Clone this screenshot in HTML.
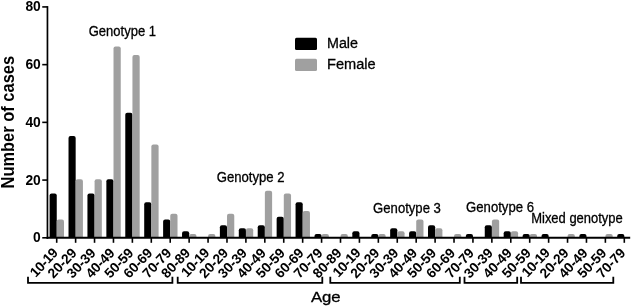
<!DOCTYPE html><html><head><meta charset="utf-8"><style>html,body{margin:0;padding:0;background:#fff}</style></head><body><svg width="633" height="307" viewBox="0 0 633 307" style="display:block;font-family:'Liberation Sans',sans-serif">
<rect width="633" height="307" fill="#fff"/>
<path d="M49.60 237.8 V195.61 Q49.60 193.61 51.60 193.61 H54.75 Q56.75 193.61 56.75 195.61 V237.8 Z" fill="#000"/>
<path d="M56.75 237.8 V221.58 Q56.75 219.58 58.75 219.58 H62.00 Q64.00 219.58 64.00 221.58 V237.8 Z" fill="#a0a0a0"/>
<path d="M68.52 237.8 V137.89 Q68.52 135.89 70.52 135.89 H73.67 Q75.67 135.89 75.67 137.89 V237.8 Z" fill="#000"/>
<path d="M75.67 237.8 V181.18 Q75.67 179.18 77.67 179.18 H80.92 Q82.92 179.18 82.92 181.18 V237.8 Z" fill="#a0a0a0"/>
<path d="M87.44 237.8 V195.61 Q87.44 193.61 89.44 193.61 H92.59 Q94.59 193.61 94.59 195.61 V237.8 Z" fill="#000"/>
<path d="M94.59 237.8 V181.18 Q94.59 179.18 96.59 179.18 H99.84 Q101.84 179.18 101.84 181.18 V237.8 Z" fill="#a0a0a0"/>
<path d="M106.36 237.8 V181.18 Q106.36 179.18 108.36 179.18 H111.51 Q113.51 179.18 113.51 181.18 V237.8 Z" fill="#000"/>
<path d="M113.51 237.8 V48.42 Q113.51 46.42 115.51 46.42 H118.76 Q120.76 46.42 120.76 48.42 V237.8 Z" fill="#a0a0a0"/>
<path d="M125.28 237.8 V114.80 Q125.28 112.80 127.28 112.80 H130.43 Q132.43 112.80 132.43 114.80 V237.8 Z" fill="#000"/>
<path d="M132.43 237.8 V57.08 Q132.43 55.08 134.43 55.08 H137.68 Q139.68 55.08 139.68 57.08 V237.8 Z" fill="#a0a0a0"/>
<path d="M144.20 237.8 V204.27 Q144.20 202.27 146.20 202.27 H149.35 Q151.35 202.27 151.35 204.27 V237.8 Z" fill="#000"/>
<path d="M151.35 237.8 V146.55 Q151.35 144.55 153.35 144.55 H156.60 Q158.60 144.55 158.60 146.55 V237.8 Z" fill="#a0a0a0"/>
<path d="M163.12 237.8 V221.58 Q163.12 219.58 165.12 219.58 H168.27 Q170.27 219.58 170.27 221.58 V237.8 Z" fill="#000"/>
<path d="M170.27 237.8 V215.81 Q170.27 213.81 172.27 213.81 H175.52 Q177.52 213.81 177.52 215.81 V237.8 Z" fill="#a0a0a0"/>
<path d="M182.04 237.8 V233.13 Q182.04 231.13 184.04 231.13 H187.19 Q189.19 231.13 189.19 233.13 V237.8 Z" fill="#000"/>
<path d="M189.19 237.8 V236.01 Q189.19 234.01 191.19 234.01 H194.44 Q196.44 234.01 196.44 236.01 V237.8 Z" fill="#a0a0a0"/>
<path d="M208.11 237.8 V236.01 Q208.11 234.01 210.11 234.01 H213.36 Q215.36 234.01 215.36 236.01 V237.8 Z" fill="#a0a0a0"/>
<path d="M219.88 237.8 V227.36 Q219.88 225.36 221.88 225.36 H225.03 Q227.03 225.36 227.03 227.36 V237.8 Z" fill="#000"/>
<path d="M227.03 237.8 V215.81 Q227.03 213.81 229.03 213.81 H232.28 Q234.28 213.81 234.28 215.81 V237.8 Z" fill="#a0a0a0"/>
<path d="M238.80 237.8 V230.24 Q238.80 228.24 240.80 228.24 H243.95 Q245.95 228.24 245.95 230.24 V237.8 Z" fill="#000"/>
<path d="M245.95 237.8 V230.24 Q245.95 228.24 247.95 228.24 H251.20 Q253.20 228.24 253.20 230.24 V237.8 Z" fill="#a0a0a0"/>
<path d="M257.72 237.8 V227.36 Q257.72 225.36 259.72 225.36 H262.87 Q264.87 225.36 264.87 227.36 V237.8 Z" fill="#000"/>
<path d="M264.87 237.8 V192.72 Q264.87 190.72 266.87 190.72 H270.12 Q272.12 190.72 272.12 192.72 V237.8 Z" fill="#a0a0a0"/>
<path d="M276.64 237.8 V218.70 Q276.64 216.70 278.64 216.70 H281.79 Q283.79 216.70 283.79 218.70 V237.8 Z" fill="#000"/>
<path d="M283.79 237.8 V195.61 Q283.79 193.61 285.79 193.61 H289.04 Q291.04 193.61 291.04 195.61 V237.8 Z" fill="#a0a0a0"/>
<path d="M295.56 237.8 V204.27 Q295.56 202.27 297.56 202.27 H300.71 Q302.71 202.27 302.71 204.27 V237.8 Z" fill="#000"/>
<path d="M302.71 237.8 V212.93 Q302.71 210.93 304.71 210.93 H307.96 Q309.96 210.93 309.96 212.93 V237.8 Z" fill="#a0a0a0"/>
<path d="M314.48 237.8 V236.01 Q314.48 234.01 316.48 234.01 H319.63 Q321.63 234.01 321.63 236.01 V237.8 Z" fill="#000"/>
<path d="M321.63 237.8 V236.01 Q321.63 234.01 323.63 234.01 H326.88 Q328.88 234.01 328.88 236.01 V237.8 Z" fill="#a0a0a0"/>
<path d="M340.55 237.8 V236.01 Q340.55 234.01 342.55 234.01 H345.80 Q347.80 234.01 347.80 236.01 V237.8 Z" fill="#a0a0a0"/>
<path d="M352.32 237.8 V233.13 Q352.32 231.13 354.32 231.13 H357.47 Q359.47 231.13 359.47 233.13 V237.8 Z" fill="#000"/>
<path d="M371.24 237.8 V236.01 Q371.24 234.01 373.24 234.01 H376.39 Q378.39 234.01 378.39 236.01 V237.8 Z" fill="#000"/>
<path d="M378.39 237.8 V236.01 Q378.39 234.01 380.39 234.01 H383.64 Q385.64 234.01 385.64 236.01 V237.8 Z" fill="#a0a0a0"/>
<path d="M390.16 237.8 V230.24 Q390.16 228.24 392.16 228.24 H395.31 Q397.31 228.24 397.31 230.24 V237.8 Z" fill="#000"/>
<path d="M397.31 237.8 V233.13 Q397.31 231.13 399.31 231.13 H402.56 Q404.56 231.13 404.56 233.13 V237.8 Z" fill="#a0a0a0"/>
<path d="M409.08 237.8 V233.13 Q409.08 231.13 411.08 231.13 H414.23 Q416.23 231.13 416.23 233.13 V237.8 Z" fill="#000"/>
<path d="M416.23 237.8 V221.58 Q416.23 219.58 418.23 219.58 H421.48 Q423.48 219.58 423.48 221.58 V237.8 Z" fill="#a0a0a0"/>
<path d="M428.00 237.8 V227.36 Q428.00 225.36 430.00 225.36 H433.15 Q435.15 225.36 435.15 227.36 V237.8 Z" fill="#000"/>
<path d="M435.15 237.8 V230.24 Q435.15 228.24 437.15 228.24 H440.40 Q442.40 228.24 442.40 230.24 V237.8 Z" fill="#a0a0a0"/>
<path d="M454.07 237.8 V236.01 Q454.07 234.01 456.07 234.01 H459.32 Q461.32 234.01 461.32 236.01 V237.8 Z" fill="#a0a0a0"/>
<path d="M465.84 237.8 V236.01 Q465.84 234.01 467.84 234.01 H470.99 Q472.99 234.01 472.99 236.01 V237.8 Z" fill="#000"/>
<path d="M484.76 237.8 V227.36 Q484.76 225.36 486.76 225.36 H489.91 Q491.91 225.36 491.91 227.36 V237.8 Z" fill="#000"/>
<path d="M491.91 237.8 V221.58 Q491.91 219.58 493.91 219.58 H497.16 Q499.16 219.58 499.16 221.58 V237.8 Z" fill="#a0a0a0"/>
<path d="M503.68 237.8 V233.13 Q503.68 231.13 505.68 231.13 H508.83 Q510.83 231.13 510.83 233.13 V237.8 Z" fill="#000"/>
<path d="M510.83 237.8 V233.13 Q510.83 231.13 512.83 231.13 H516.08 Q518.08 231.13 518.08 233.13 V237.8 Z" fill="#a0a0a0"/>
<path d="M522.60 237.8 V236.01 Q522.60 234.01 524.60 234.01 H527.75 Q529.75 234.01 529.75 236.01 V237.8 Z" fill="#000"/>
<path d="M529.75 237.8 V236.01 Q529.75 234.01 531.75 234.01 H535.00 Q537.00 234.01 537.00 236.01 V237.8 Z" fill="#a0a0a0"/>
<path d="M541.52 237.8 V236.01 Q541.52 234.01 543.52 234.01 H546.67 Q548.67 234.01 548.67 236.01 V237.8 Z" fill="#000"/>
<path d="M567.59 237.8 V236.01 Q567.59 234.01 569.59 234.01 H572.84 Q574.84 234.01 574.84 236.01 V237.8 Z" fill="#a0a0a0"/>
<path d="M579.36 237.8 V236.01 Q579.36 234.01 581.36 234.01 H584.51 Q586.51 234.01 586.51 236.01 V237.8 Z" fill="#000"/>
<path d="M605.43 237.8 V236.01 Q605.43 234.01 607.43 234.01 H610.68 Q612.68 234.01 612.68 236.01 V237.8 Z" fill="#a0a0a0"/>
<path d="M617.20 237.8 V236.01 Q617.20 234.01 619.20 234.01 H622.35 Q624.35 234.01 624.35 236.01 V237.8 Z" fill="#000"/>
<g stroke="#000" fill="none">
<path d="M47.45 6.1 V238.8" stroke-width="1.7"/>
<path d="M46.6 237.8 H630.2" stroke-width="2"/>
<path d="M42.25 237.80 H47.45" stroke-width="1.6"/>
<path d="M42.25 180.08 H47.45" stroke-width="1.6"/>
<path d="M42.25 122.36 H47.45" stroke-width="1.6"/>
<path d="M42.25 64.64 H47.45" stroke-width="1.6"/>
<path d="M42.25 6.92 H47.45" stroke-width="1.6"/>
<path d="M56.70 237.8 V242.8" stroke-width="1.6"/>
<path d="M75.62 237.8 V242.8" stroke-width="1.6"/>
<path d="M94.54 237.8 V242.8" stroke-width="1.6"/>
<path d="M113.46 237.8 V242.8" stroke-width="1.6"/>
<path d="M132.38 237.8 V242.8" stroke-width="1.6"/>
<path d="M151.30 237.8 V242.8" stroke-width="1.6"/>
<path d="M170.22 237.8 V242.8" stroke-width="1.6"/>
<path d="M189.14 237.8 V242.8" stroke-width="1.6"/>
<path d="M208.06 237.8 V242.8" stroke-width="1.6"/>
<path d="M226.98 237.8 V242.8" stroke-width="1.6"/>
<path d="M245.90 237.8 V242.8" stroke-width="1.6"/>
<path d="M264.82 237.8 V242.8" stroke-width="1.6"/>
<path d="M283.74 237.8 V242.8" stroke-width="1.6"/>
<path d="M302.66 237.8 V242.8" stroke-width="1.6"/>
<path d="M321.58 237.8 V242.8" stroke-width="1.6"/>
<path d="M340.50 237.8 V242.8" stroke-width="1.6"/>
<path d="M359.42 237.8 V242.8" stroke-width="1.6"/>
<path d="M378.34 237.8 V242.8" stroke-width="1.6"/>
<path d="M397.26 237.8 V242.8" stroke-width="1.6"/>
<path d="M416.18 237.8 V242.8" stroke-width="1.6"/>
<path d="M435.10 237.8 V242.8" stroke-width="1.6"/>
<path d="M454.02 237.8 V242.8" stroke-width="1.6"/>
<path d="M472.94 237.8 V242.8" stroke-width="1.6"/>
<path d="M491.86 237.8 V242.8" stroke-width="1.6"/>
<path d="M510.78 237.8 V242.8" stroke-width="1.6"/>
<path d="M529.70 237.8 V242.8" stroke-width="1.6"/>
<path d="M548.62 237.8 V242.8" stroke-width="1.6"/>
<path d="M567.54 237.8 V242.8" stroke-width="1.6"/>
<path d="M586.46 237.8 V242.8" stroke-width="1.6"/>
<path d="M605.38 237.8 V242.8" stroke-width="1.6"/>
<path d="M624.30 237.8 V242.8" stroke-width="1.6"/>
</g>
<text x="40.75" y="242.30" font-size="13.8" font-weight="bold" text-anchor="end">0</text>
<text x="40.75" y="184.58" font-size="13.8" font-weight="bold" text-anchor="end">20</text>
<text x="40.75" y="126.86" font-size="13.8" font-weight="bold" text-anchor="end">40</text>
<text x="40.75" y="69.14" font-size="13.8" font-weight="bold" text-anchor="end">60</text>
<text x="40.75" y="11.42" font-size="13.8" font-weight="bold" text-anchor="end">80</text>
<text transform="translate(58.60 253.8) rotate(-46.5)" font-size="13.8" letter-spacing="-0.4" font-weight="bold" text-anchor="end">10-19</text>
<text transform="translate(77.52 253.8) rotate(-46.5)" font-size="13.8" letter-spacing="-0.1" font-weight="bold" text-anchor="end">20-29</text>
<text transform="translate(96.44 253.8) rotate(-46.5)" font-size="13.8" letter-spacing="-0.1" font-weight="bold" text-anchor="end">30-39</text>
<text transform="translate(115.36 253.8) rotate(-46.5)" font-size="13.8" letter-spacing="-0.1" font-weight="bold" text-anchor="end">40-49</text>
<text transform="translate(134.28 253.8) rotate(-46.5)" font-size="13.8" letter-spacing="-0.1" font-weight="bold" text-anchor="end">50-59</text>
<text transform="translate(153.20 253.8) rotate(-46.5)" font-size="13.8" letter-spacing="-0.1" font-weight="bold" text-anchor="end">60-69</text>
<text transform="translate(172.12 253.8) rotate(-46.5)" font-size="13.8" letter-spacing="-0.1" font-weight="bold" text-anchor="end">70-79</text>
<text transform="translate(191.04 253.8) rotate(-46.5)" font-size="13.8" letter-spacing="-0.1" font-weight="bold" text-anchor="end">80-89</text>
<text transform="translate(209.96 253.8) rotate(-46.5)" font-size="13.8" letter-spacing="-0.4" font-weight="bold" text-anchor="end">10-19</text>
<text transform="translate(228.88 253.8) rotate(-46.5)" font-size="13.8" letter-spacing="-0.1" font-weight="bold" text-anchor="end">20-29</text>
<text transform="translate(247.80 253.8) rotate(-46.5)" font-size="13.8" letter-spacing="-0.1" font-weight="bold" text-anchor="end">30-39</text>
<text transform="translate(266.72 253.8) rotate(-46.5)" font-size="13.8" letter-spacing="-0.1" font-weight="bold" text-anchor="end">40-49</text>
<text transform="translate(285.64 253.8) rotate(-46.5)" font-size="13.8" letter-spacing="-0.1" font-weight="bold" text-anchor="end">50-59</text>
<text transform="translate(304.56 253.8) rotate(-46.5)" font-size="13.8" letter-spacing="-0.1" font-weight="bold" text-anchor="end">60-69</text>
<text transform="translate(323.48 253.8) rotate(-46.5)" font-size="13.8" letter-spacing="-0.1" font-weight="bold" text-anchor="end">70-79</text>
<text transform="translate(342.40 253.8) rotate(-46.5)" font-size="13.8" letter-spacing="-0.1" font-weight="bold" text-anchor="end">80-89</text>
<text transform="translate(361.32 253.8) rotate(-46.5)" font-size="13.8" letter-spacing="-0.4" font-weight="bold" text-anchor="end">10-19</text>
<text transform="translate(380.24 253.8) rotate(-46.5)" font-size="13.8" letter-spacing="-0.1" font-weight="bold" text-anchor="end">20-29</text>
<text transform="translate(399.16 253.8) rotate(-46.5)" font-size="13.8" letter-spacing="-0.1" font-weight="bold" text-anchor="end">30-39</text>
<text transform="translate(418.08 253.8) rotate(-46.5)" font-size="13.8" letter-spacing="-0.1" font-weight="bold" text-anchor="end">40-49</text>
<text transform="translate(437.00 253.8) rotate(-46.5)" font-size="13.8" letter-spacing="-0.1" font-weight="bold" text-anchor="end">50-59</text>
<text transform="translate(455.92 253.8) rotate(-46.5)" font-size="13.8" letter-spacing="-0.1" font-weight="bold" text-anchor="end">60-69</text>
<text transform="translate(474.84 253.8) rotate(-46.5)" font-size="13.8" letter-spacing="-0.1" font-weight="bold" text-anchor="end">70-79</text>
<text transform="translate(493.76 253.8) rotate(-46.5)" font-size="13.8" letter-spacing="-0.1" font-weight="bold" text-anchor="end">30-39</text>
<text transform="translate(512.68 253.8) rotate(-46.5)" font-size="13.8" letter-spacing="-0.1" font-weight="bold" text-anchor="end">40-49</text>
<text transform="translate(531.60 253.8) rotate(-46.5)" font-size="13.8" letter-spacing="-0.1" font-weight="bold" text-anchor="end">50-59</text>
<text transform="translate(550.52 253.8) rotate(-46.5)" font-size="13.8" letter-spacing="-0.4" font-weight="bold" text-anchor="end">10-19</text>
<text transform="translate(569.44 253.8) rotate(-46.5)" font-size="13.8" letter-spacing="-0.1" font-weight="bold" text-anchor="end">20-29</text>
<text transform="translate(588.36 253.8) rotate(-46.5)" font-size="13.8" letter-spacing="-0.1" font-weight="bold" text-anchor="end">40-49</text>
<text transform="translate(607.28 253.8) rotate(-46.5)" font-size="13.8" letter-spacing="-0.1" font-weight="bold" text-anchor="end">50-59</text>
<text transform="translate(626.20 253.8) rotate(-46.5)" font-size="13.8" letter-spacing="-0.1" font-weight="bold" text-anchor="end">70-79</text>
<text transform="translate(14.3 122.2) rotate(-90)" font-size="17.5" font-weight="bold" text-anchor="middle" textLength="132.6" lengthAdjust="spacingAndGlyphs">Number of cases</text>
<text x="310.9" y="301.7" font-size="15.2" textLength="29.8" lengthAdjust="spacingAndGlyphs" stroke="#000" stroke-width="0.3">Age</text>
<text x="88.7" y="36.3" font-size="14.2" textLength="67.3" lengthAdjust="spacingAndGlyphs" stroke="#000" stroke-width="0.3">Genotype 1</text>
<text x="216.7" y="181.8" font-size="14.2" textLength="67.9" lengthAdjust="spacingAndGlyphs" stroke="#000" stroke-width="0.3">Genotype 2</text>
<text x="373.1" y="212.5" font-size="14.2" textLength="67.8" lengthAdjust="spacingAndGlyphs" stroke="#000" stroke-width="0.3">Genotype 3</text>
<text x="466.1" y="212.2" font-size="14.2" textLength="67.9" lengthAdjust="spacingAndGlyphs" stroke="#000" stroke-width="0.3">Genotype 6</text>
<text x="531.2" y="222.6" font-size="14.2" textLength="91.6" lengthAdjust="spacingAndGlyphs" stroke="#000" stroke-width="0.3">Mixed genotype</text>
<rect x="295" y="37.7" width="22" height="12.2" rx="1.5" fill="#000"/>
<rect x="295" y="58.7" width="22" height="12.2" rx="1.5" fill="#a0a0a0"/>
<text x="327.0" y="48.2" font-size="15.1" textLength="31.0" lengthAdjust="spacingAndGlyphs" stroke="#000" stroke-width="0.3">Male</text>
<text x="327.0" y="69.2" font-size="15.1" textLength="48.6" lengthAdjust="spacingAndGlyphs" stroke="#000" stroke-width="0.3">Female</text>
<g stroke="#000" stroke-width="1.8" fill="none">
<path d="M28.00 276.7 V282.8 H172.40 V276.7"/>
<path d="M177.70 276.7 V282.8 H322.30 V276.7"/>
<path d="M330.30 276.7 V282.8 H459.80 V276.7"/>
<path d="M464.50 276.7 V282.8 H517.20 V276.7"/>
<path d="M521.00 276.7 V282.8 H613.30 V276.7"/>
</g>
</svg></body></html>
